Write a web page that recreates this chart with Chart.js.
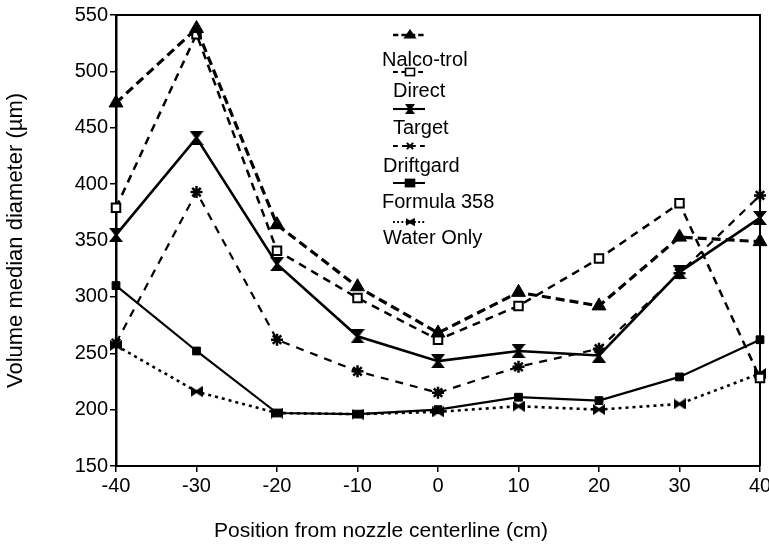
<!DOCTYPE html>
<html><head><meta charset="utf-8">
<script src="https://cdn.jsdelivr.net/npm/chart.js@4.4.1/dist/chart.umd.min.js"></script>
<style>html,body{margin:0;padding:0;background:#fff}canvas{display:block}</style>
</head><body>
<canvas id="c" width="769" height="544"></canvas>
<script>
// ---- data ----
const positions = [-40, -30, -20, -10, 0, 10, 20, 30, 40];
const seriesNames = ['Nalco-trol', 'Direct', 'Target', 'Driftgard', 'Formula 358', 'Water Only'];
const nalcoTrol  = [472, 538, 364, 309, 268, 304, 292, 353, 349];
const direct     = [379, 533, 341, 299, 262, 292, 334, 383, 228];
const target     = [355, 441, 329, 265, 243, 252, 248, 322, 370];
const driftgard  = [259, 393, 262, 234, 215, 238, 254, 321, 390];
const formula358 = [310, 252, 197, 196, 200, 211, 208, 229, 262];
const waterOnly  = [257, 216, 197, 196, 198, 203, 200, 205, 232];
const xTickValues = [-40, -30, -20, -10, 0, 10, 20, 30, 40];
const yTickValues = [150, 200, 250, 300, 350, 400, 450, 500, 550];
const xTitle = 'Position from nozzle centerline (cm)';
const yTitle = 'Volume median diameter (\u00b5m)';

const FONT = '"Liberation Sans", Arial, Helvetica, sans-serif';

function bowtie(w, h, vertical) {
  const c = document.createElement('canvas');
  c.width = w; c.height = h;
  const g = c.getContext('2d');
  g.fillStyle = '#000';
  g.beginPath();
  if (!vertical) {
    g.moveTo(0, 0); g.lineTo(w / 2, h / 2 - 1.5); g.lineTo(w, 0); g.lineTo(w, h); g.lineTo(w / 2, h / 2 + 1.5); g.lineTo(0, h);
  } else {
    g.moveTo(0, 0); g.lineTo(w, 0); g.lineTo(w / 2 + 1.5, h / 2); g.lineTo(w, h); g.lineTo(0, h); g.lineTo(w / 2 - 1.5, h / 2);
  }
  g.closePath();
  g.fill();
  return c;
}
// Target uses an hourglass, Water Only a side-on bowtie
const targetMark = bowtie(14, 14, true);
const targetMarkSmall = bowtie(10, 10, true);
const waterMark = bowtie(12, 11, false);
const waterMarkSmall = bowtie(9, 8, false);

const styles = [
  { borderWidth: 3.2, borderDash: [9, 5], pointStyle: 'triangle', pointRadius: 8, pointBackgroundColor: '#000', pointBorderWidth: 1, legendStyle: 'triangle', legendR: 6 },
  { borderWidth: 2.5, borderDash: [8, 6], pointStyle: 'rect', pointRadius: 6, pointBackgroundColor: '#fff', pointBorderWidth: 2, legendStyle: 'rect', legendR: 4.5 },
  { borderWidth: 2.6, borderDash: [], pointStyle: targetMark, pointRadius: 7, pointBackgroundColor: '#000', pointBorderWidth: 1, legendStyle: targetMarkSmall, legendR: 5 },
  { borderWidth: 2.2, borderDash: [8, 7], pointStyle: 'star', pointRadius: 6, pointBackgroundColor: '#000', pointBorderWidth: 2.5, legendStyle: 'star', legendR: 4.5 },
  { borderWidth: 2.2, borderDash: [], pointStyle: 'rect', pointRadius: 5.5, pointBackgroundColor: '#000', pointBorderWidth: 1, legendStyle: 'rect', legendR: 4.5 },
  { borderWidth: 2.6, borderDash: [3, 4], pointStyle: waterMark, pointRadius: 6, pointBackgroundColor: '#000', pointBorderWidth: 1, legendStyle: waterMarkSmall, legendR: 4.5 }
];
const allSeries = [nalcoTrol, direct, target, driftgard, formula358, waterOnly];

const datasets = seriesNames.map((name, i) => ({
  label: name,
  data: positions.map((x, j) => ({ x: x, y: allSeries[i][j] })),
  borderColor: '#000',
  backgroundColor: '#000',
  borderWidth: styles[i].borderWidth,
  borderDash: styles[i].borderDash,
  pointStyle: styles[i].pointStyle,
  pointRadius: styles[i].pointRadius,
  pointBackgroundColor: styles[i].pointBackgroundColor,
  pointBorderColor: '#000',
  pointBorderWidth: styles[i].pointBorderWidth,
  tension: 0,
  fill: false,
  clip: false,
  order: i
}));

function drawMark(ctx, style, r, x, y, fill) {
  ctx.save();
  ctx.fillStyle = fill; ctx.strokeStyle = '#000'; ctx.setLineDash([]);
  if (style instanceof HTMLCanvasElement) {
    ctx.drawImage(style, x - style.width / 2, y - style.height / 2);
  } else if (style === 'triangle') {
    ctx.beginPath();
    ctx.moveTo(x, y - r); ctx.lineTo(x + r * 1.1, y + r * 0.6); ctx.lineTo(x - r * 1.1, y + r * 0.6); ctx.closePath();
    ctx.fillStyle = '#000'; ctx.fill();
  } else if (style === 'rect') {
    ctx.lineWidth = 1.6;
    ctx.fillRect(x - r, y - r * 0.8, 2 * r, 1.6 * r);
    ctx.strokeRect(x - r, y - r * 0.8, 2 * r, 1.6 * r);
  } else if (style === 'star') {
    ctx.lineWidth = 2;
    ctx.beginPath();
    ctx.moveTo(x - r, y); ctx.lineTo(x + r, y);
    ctx.moveTo(x - r * 0.7, y - r * 0.7); ctx.lineTo(x + r * 0.7, y + r * 0.7);
    ctx.moveTo(x - r * 0.7, y + r * 0.7); ctx.lineTo(x + r * 0.7, y - r * 0.7);
    ctx.stroke();
  }
  ctx.restore();
}

const legendSampleY = [35, 72, 109, 146, 183, 222];
const legendTextY = [60, 91, 128, 166, 202, 238];
const legendTextX = [382, 393, 393, 383, 382, 383];

const framePlugin = {
  id: 'frame',
  beforeDatasetsDraw(chart) {
    const { ctx, chartArea: a } = chart;
    ctx.save();
    ctx.strokeStyle = '#000'; ctx.lineWidth = 2;
    ctx.beginPath();
    ctx.moveTo(a.left, a.top); ctx.lineTo(a.right, a.top); ctx.lineTo(a.right, a.bottom);
    ctx.stroke();
    ctx.restore();
  },
  afterDraw(chart) {
    const ctx = chart.ctx;
    ctx.save();
    chart.data.datasets.forEach((ds, i) => {
      const sy = legendSampleY[i];
      ctx.strokeStyle = '#000';
      ctx.lineWidth = Math.max(2, ds.borderWidth - 0.5);
      ctx.setLineDash(ds.borderDash.length ? ds.borderDash.map(v => v * 0.6) : []);
      ctx.beginPath(); ctx.moveTo(393, sy); ctx.lineTo(425, sy); ctx.stroke();
      drawMark(ctx, styles[i].legendStyle, styles[i].legendR, 410, sy, ds.pointBackgroundColor);
      ctx.setLineDash([]);
      ctx.fillStyle = '#000';
      ctx.font = '20px ' + FONT;
      ctx.textBaseline = 'middle';
      ctx.textAlign = 'left';
      ctx.fillText(ds.label, legendTextX[i], legendTextY[i]);
    });
    ctx.restore();
  }
};

new Chart(document.getElementById('c'), {
  type: 'line',
  data: { datasets: datasets },
  plugins: [framePlugin],
  options: {
    responsive: false,
    animation: false,
    layout: { padding: { top: 15, right: 7, left: 0, bottom: 0 } },
    plugins: {
      legend: { display: false },
      tooltip: { enabled: false },
      title: {
        display: true, position: 'bottom', text: xTitle, color: '#000',
        font: { size: 21, family: FONT, weight: 'normal' },
        padding: { top: 2, bottom: 0 }
      }
    },
    scales: {
      x: {
        type: 'linear', min: -40, max: 40,
        afterBuildTicks(s) { s.ticks = xTickValues.map(v => ({ value: v })); },
        afterFit(s) { s.height = 544 - 466 - 27.2; s.paddingLeft = 0; s.paddingRight = 0; },
        grid: { drawOnChartArea: false, drawTicks: true, tickLength: 6, color: '#000', lineWidth: 1.5 },
        border: { display: true, color: '#000', width: 2 },
        ticks: { color: '#000', font: { size: 20, family: FONT }, padding: 2, maxRotation: 0, autoSkip: false }
      },
      y: {
        type: 'linear', min: 150, max: 550,
        afterBuildTicks(s) { s.ticks = yTickValues.map(v => ({ value: v })); },
        afterFit(s) { s.width = 116; s.paddingTop = 0; s.paddingBottom = 0; },
        grid: { drawOnChartArea: false, drawTicks: true, tickLength: 6, color: '#000', lineWidth: 1.5 },
        border: { display: true, color: '#000', width: 2.5 },
        ticks: { color: '#000', font: { size: 20, family: FONT }, padding: 2 },
        title: { display: true, text: yTitle, color: '#000', font: { size: 22, family: FONT }, padding: { top: 3, bottom: 0 } }
      }
    }
  }
});
</script>
</body></html>
